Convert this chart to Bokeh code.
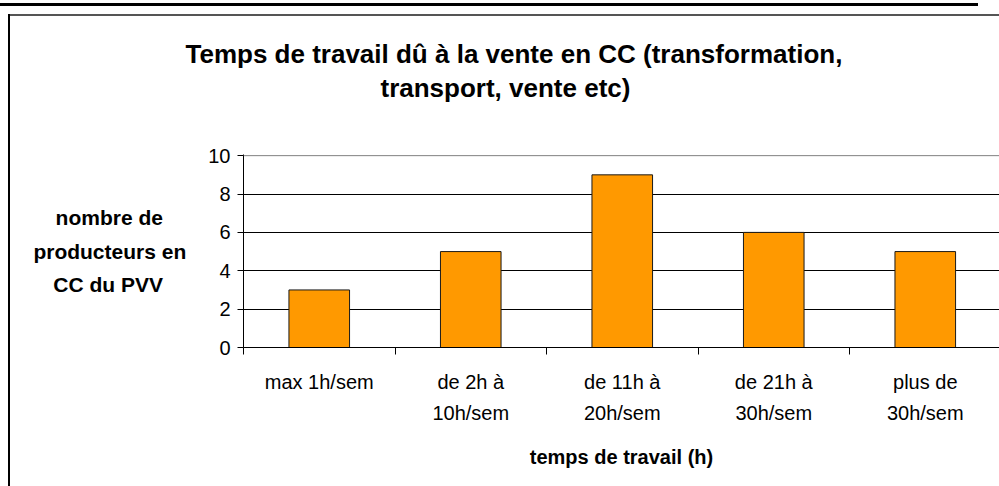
from bokeh.plotting import figure
from bokeh.models import Range1d, FixedTicker, Span, ColumnDataSource, Title
from bokeh.embed import file_html
from bokeh.resources import INLINE

# ---- data ----
categories = ["max 1h/sem", "de 2h à\n10h/sem", "de 11h à\n20h/sem", "de 21h à\n30h/sem", "plus de\n30h/sem"]
values = [3, 5, 9, 6, 5]
y_ticks = [0, 2, 4, 6, 8, 10]
title_lines = ["Temps de travail dû à la vente en CC (transformation,", "transport, vente etc)"]
ylabel_lines = ["nombre de", "producteurs en", "CC du PVV"]
xlabel = "temps de travail (h)"

FONT = "Liberation Sans"
NB = "\u00a0"
n = len(categories)
centers = [i + 0.5 for i in range(n)]
bounds = [i for i in range(n + 1)]

p = figure(width=999, height=486, output_backend="svg", toolbar_location=None, tools="",
           x_range=Range1d(0, 4.99), y_range=Range1d(0, 10.06),
           min_border_left=243, min_border_right=0, min_border_top=154, min_border_bottom=139)
p.outline_line_color = None
p.background_fill_color = "white"
p.border_fill_color = None
# chart-object frame lines drawn as page background behind the transparent border area
p.styles = {
    "background-color": "white",
    "background-image": "linear-gradient(#000,#000), linear-gradient(#555,#555), linear-gradient(#000,#000)",
    "background-size": "2px 472px, 991px 2px, 978px 3px",
    "background-position": "8px 14px, 8px 14px, 0px 3px",
    "background-repeat": "no-repeat",
}

src = ColumnDataSource(dict(x=centers, top=values))
p.vbar(x="x", top="top", width=0.4, source=src, fill_color="#FF9900", line_color="#1a1a1a", line_width=1)

# grid
p.xgrid.visible = False
p.ygrid.ticker = FixedTicker(ticks=y_ticks[:-1])
p.ygrid.grid_line_color = "black"
p.ygrid.grid_line_width = 1
p.add_layout(Span(location=y_ticks[-1], dimension="width", line_color="#808080", line_width=1))

# y axis
ya = p.yaxis[0]
ya.ticker = FixedTicker(ticks=y_ticks)
ya.axis_line_color = "black"
ya.major_tick_line_color = "black"
ya.major_tick_in = 0
ya.major_tick_out = 6
ya.minor_tick_line_color = None
ya.major_label_text_font = FONT
ya.major_label_text_font_size = "20px"
ya.major_label_text_color = "black"
ya.major_label_standoff = 7
# lines are right-aligned by the axis; pad shorter lines so they appear centred
ya.axis_label = "\n".join([ylabel_lines[0] + NB * 4, ylabel_lines[1], ylabel_lines[2] + NB * 4])
ya.axis_label_text_font = FONT
ya.axis_label_text_font_size = "21px"
ya.axis_label_text_font_style = "bold"
ya.axis_label_text_color = "black"
ya.axis_label_text_line_height = 1.47
ya.axis_label_text_align = "center"
ya.axis_label_standoff = 19
if "axis_label_orientation" in ya.properties():
    ya.axis_label_orientation = "horizontal"

# x axis
xa = p.xaxis[0]
xa.ticker = FixedTicker(ticks=centers, minor_ticks=bounds)
xa.major_label_overrides = {c: lab for c, lab in zip(centers, categories)}
xa.axis_line_color = "black"
xa.major_tick_line_color = None
xa.major_tick_in = 0
xa.major_tick_out = 7
xa.minor_tick_line_color = "black"
xa.minor_tick_in = 0
xa.minor_tick_out = 7
xa.major_label_text_font = FONT
xa.major_label_text_font_size = "20px"
xa.major_label_text_color = "black"
xa.major_label_text_line_height = 1.45
xa.major_label_standoff = 16
xa.axis_label = xlabel
xa.axis_label_text_font = FONT
xa.axis_label_text_font_size = "20px"
xa.axis_label_text_font_style = "bold"
xa.axis_label_text_color = "black"
xa.axis_label_standoff = 19

# title (two lines); spacer nearest the frame, then line 2, then the main title line
p.title.text = title_lines[0]
p.title.align = "left"
p.title.offset = -58
p.title.text_font = FONT
p.title.text_font_size = "26px"
p.title.text_font_style = "bold"
p.title.text_color = "black"
p.title.standoff = 0
spacer = Title(text=" ", text_font_size="1px", standoff=47)
p.add_layout(spacer, "above")
t2 = Title(text=title_lines[1], align="left", offset=137, text_font=FONT, text_font_size="26px",
           text_font_style="bold", text_color="black", standoff=4)
p.add_layout(t2, "above")

open("out.html", "w").write(file_html(p, INLINE))
